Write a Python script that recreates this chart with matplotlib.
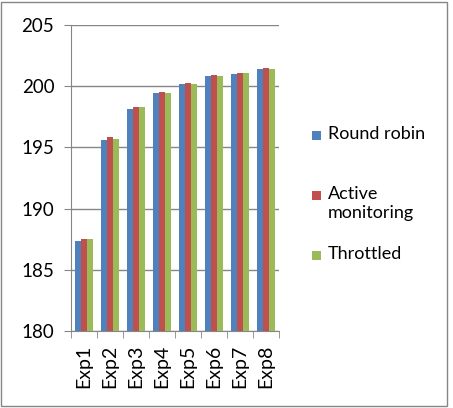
import numpy as np
import matplotlib
matplotlib.use('Agg')
import matplotlib.pyplot as plt
from matplotlib.patches import Rectangle

plt.rcParams['font.family'] = ['Lato', 'DejaVu Sans']

# data
experiments = ['Exp1', 'Exp2', 'Exp3', 'Exp4', 'Exp5', 'Exp6', 'Exp7', 'Exp8']
round_robin = [187.38, 195.60, 198.15, 199.43, 200.14, 200.80, 200.98, 201.37]
active_monitoring = [187.54, 195.82, 198.34, 199.51, 200.28, 200.93, 201.07, 201.45]
throttled = [187.49, 195.66, 198.28, 199.48, 200.22, 200.82, 201.07, 201.39]
series_names = ['Round robin', 'Active\nmonitoring', 'Throttled']
colors = ['#4F81BD', '#C0504D', '#9BBB59']

W, H = 453, 408
fig = plt.figure(figsize=(W / 100, H / 100), dpi=100)
ax = fig.add_axes([71 / W, 1 - 331 / H, 208 / W, 306 / H])

x = np.arange(len(experiments))
w = 0.222
for i, vals in enumerate([round_robin, active_monitoring, throttled]):
    ax.bar(x + (i - 1) * w, np.array(vals) - 180, width=w, bottom=180,
           color=colors[i], zorder=3)

ax.set_ylim(180, 205)
ax.set_yticks(range(180, 206, 5))
ax.set_xlim(-0.5, len(experiments) - 0.5)
ax.set_xticks(x)
ax.set_xticklabels(experiments, rotation=90)
ax.set_xticks(np.arange(-0.5, len(experiments), 1), minor=True)
ax.tick_params(axis='x', which='major', length=0, pad=10, labelsize=14)
ax.tick_params(axis='x', which='minor', length=5, color='#868686')
ax.tick_params(axis='y', length=5, color='#868686', labelsize=13.5, pad=7)
ax.yaxis.grid(True, color='#868686', linewidth=1, zorder=0)
for s in ['top', 'right']:
    ax.spines[s].set_visible(False)
for s in ['left', 'bottom']:
    ax.spines[s].set_color('#868686')

# legend laid out like the original (entry rows at fixed pixel heights)
legend_rows = [135, 195, 255]
for name, c, yp in zip(series_names, colors, legend_rows):
    fig.patches.append(Rectangle((312 / W, 1 - (yp + 4.5) / H), 9 / W, 9 / H,
                                 transform=fig.transFigure, facecolor=c,
                                 edgecolor='none'))
    fig.text(328 / W, 1 - (yp - 9) / H, name, fontsize=13, va='top', ha='left',
             linespacing=1.25)

fig.patches.append(Rectangle((0.003, 0.004), 0.984, 0.99, transform=fig.transFigure,
                             fill=False, edgecolor='#868686', linewidth=1))

fig.savefig('out.png', dpi=100)
